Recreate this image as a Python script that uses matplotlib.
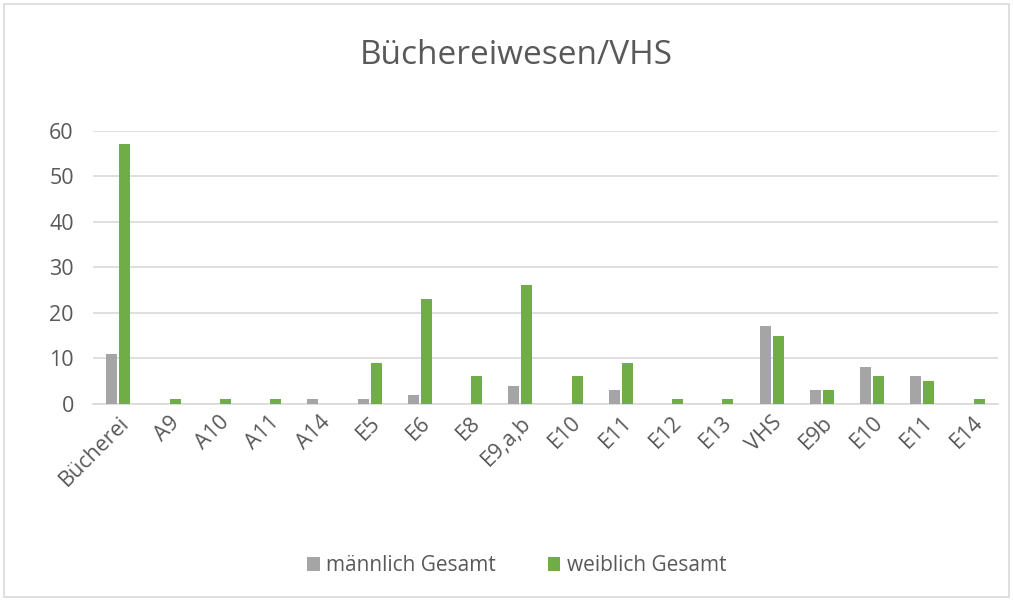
import matplotlib.pyplot as plt
import numpy as np
from matplotlib.patches import Rectangle

plt.rcParams['font.family'] = ['Open Sans', 'DejaVu Sans']

# categories and values
categories = ['Bücherei', 'A9', 'A10', 'A11', 'A14', 'E5', 'E6', 'E8', 'E9,a,b',
              'E10', 'E11', 'E12', 'E13', 'VHS', 'E9b', 'E10', 'E11', 'E14']
maennlich = [11, 0, 0, 0, 1, 1, 2, 0, 4, 0, 3, 0, 0, 17, 3, 8, 6, 0]
weiblich = [57, 1, 1, 1, 0, 9, 23, 6, 26, 6, 9, 1, 1, 15, 3, 6, 5, 1]

txt = '#595959'
grey = '#a5a5a5'
green = '#70ad47'

fig = plt.figure(figsize=(10.13, 6), dpi=100)
ax = fig.add_axes([0.092, 0.327, 0.893, 0.455])

x = np.arange(len(categories))
w = 0.22
ax.bar(x - w/2 - 0.02, maennlich, w, color=grey, label='männlich Gesamt', zorder=3)
ax.bar(x + w/2 + 0.02, weiblich, w, color=green, label='weiblich Gesamt', zorder=3)

ax.set_xlim(-0.5, len(categories) - 0.5)
ax.set_ylim(0, 60)
ax.set_yticks(range(0, 61, 10))
ax.grid(axis='y', color='#d9d9d9', linewidth=1.2, zorder=0)
for s in ['top', 'right', 'left']:
    ax.spines[s].set_visible(False)
ax.spines['bottom'].set_color('#d9d9d9')
ax.spines['bottom'].set_linewidth(1.2)
ax.tick_params(axis='both', length=0, colors=txt, labelsize=15.5)
ax.tick_params(axis='y', pad=14)
ax.tick_params(axis='x', pad=6)
ax.set_xticks(x)
ax.set_xticklabels(categories, rotation=45, ha='right', rotation_mode='anchor')

fig.text(0.51, 0.908, 'Büchereiwesen/VHS', ha='center', va='center', fontsize=24, color=txt)

fig.legend(loc='center', bbox_to_anchor=(0.51, 0.057), ncol=2, frameon=False,
           fontsize=15, labelcolor=txt, handlelength=0.6, handleheight=0.6,
           handletextpad=0.3, columnspacing=2.5)

fig.patches.append(Rectangle((0.004, 0.005), 0.992, 0.988, transform=fig.transFigure,
                             fill=False, edgecolor='#d9d9d9', linewidth=1.2))

fig.savefig('out.png', dpi=100)
